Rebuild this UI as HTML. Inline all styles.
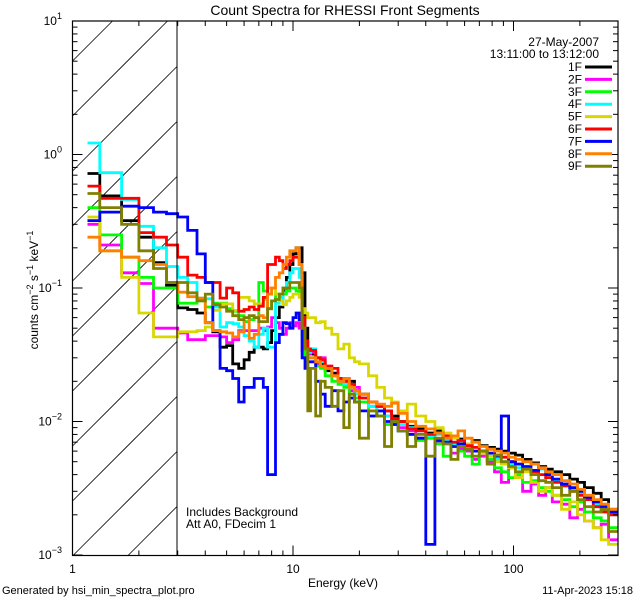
<!DOCTYPE html>
<html><head><meta charset="utf-8"><style>
html,body{margin:0;padding:0;background:#fff;width:640px;height:600px;overflow:hidden;}
svg{display:block;font-family:"Liberation Sans",sans-serif;}
</style></head><body>
<svg id="chart" width="640" height="600" viewBox="0 0 640 600" xmlns="http://www.w3.org/2000/svg">
<rect width="640" height="600" fill="#fff"/>
<defs><clipPath id="plotClip"><rect x="72.5" y="21" width="545.5" height="534.5"/></clipPath></defs>
<g id="hatch"></g>
<g id="series" clip-path="url(#plotClip)"></g>
<g id="axes"></g>
<text x="345" y="15" font-size="14" text-anchor="middle">Count Spectra for RHESSI Front Segments</text>
<text x="343" y="587" font-size="12" text-anchor="middle">Energy (keV)</text>
<text transform="translate(38,290) rotate(-90)" font-size="12" text-anchor="middle">counts cm<tspan dy="-5" font-size="9">−2</tspan><tspan dy="5"> s</tspan><tspan dy="-5" font-size="9">−1</tspan><tspan dy="5"> keV</tspan><tspan dy="-5" font-size="9">−1</tspan></text>
<text x="599" y="46" font-size="12" text-anchor="end">27-May-2007</text>
<text x="599" y="58" font-size="12" text-anchor="end">13:11:00 to 13:12:00</text>
<text x="186" y="516" font-size="12">Includes Background</text>
<text x="186" y="528" font-size="12">Att A0, FDecim 1</text>
<text x="2" y="594" font-size="11">Generated by hsi_min_spectra_plot.pro</text>
<text x="633" y="594" font-size="11" text-anchor="end">11-Apr-2023 15:18</text>
<g id="legend"></g>
</svg>
<script>
const edges=[1.17,1.33,1.67,2.0,2.33,2.67,3.0,3.33,3.67,4.0,4.33,4.67,5.0,5.33,5.67,6.0,6.33,6.67,7.0,7.33,7.67,8.0,8.33,8.67,9.0,9.33,9.67,10.0,10.33,10.67,11.0,11.33,11.67,12.0,12.67,13.33,14,15,16,17,18,19,20,22,24,26,28,30,33,36,40,44,48,52,56,60,65,70,76,82,88,95,102,110,120,130,140,150,165,180,195,210,230,250,270,297];
const seriesNames=["1F","2F","3F","4F","5F","6F","7F","8F","9F"];
const seriesColors=["#000000","#ff00ff","#00ff00","#00ffff","#d8d800","#ff0000","#0000ff","#ff8000","#808000"];
const s1F=[0.72,0.49,0.32,0.24,0.155,0.105,0.071,0.069,0.065,0.055,0.047,0.036,0.037,0.027,0.025,0.029,0.033,0.036,0.036,0.035,0.039,0.048,0.06,0.072,0.096,0.12,0.15,0.18,0.2,0.2,0.13,0.05,0.034,
0.032,0.03,0.027,0.024,0.023,0.021,0.019,0.02,0.017,0.016,0.014,0.013,0.012,0.011,0.01,0.0092,0.0088,0.0082,0.0085,0.0076,0.0078,0.0074,0.0068,0.0072,0.0066,0.0064,0.0062,0.006,0.0058,0.0056,0.0052,0.0049,0.0046,0.0044,0.0042,0.004,0.0037,0.0035,0.0032,0.0029,0.0026,0.0022];
const s2F=[0.3,0.21,0.13,0.108,0.05,0.05,0.046,0.041,0.041,0.044,0.044,0.043,0.039,0.041,0.048,0.048,0.048,0.048,0.05,0.048,0.051,0.06,0.055,0.05,0.045,0.05,0.055,0.052,0.055,0.05,0.034,0.03,0.032,
0.033,0.027,0.03,0.026,0.022,0.02,0.021,0.017,0.018,0.015,0.013,0.012,0.011,0.0095,0.009,0.0085,0.0075,0.0078,0.007,0.0068,0.0058,0.0062,0.006,0.0052,0.0055,0.005,0.0042,0.0035,0.0045,0.0038,0.003,0.0034,0.0028,0.0032,0.0025,0.0024,0.0019,0.0022,0.0018,0.0016,0.0017,0.0013];
const s3F=[0.4,0.25,0.17,0.12,0.1,0.1,0.077,0.077,0.08,0.072,0.077,0.077,0.07,0.067,0.062,0.056,0.058,0.06,0.11,0.095,0.07,0.08,0.09,0.085,0.09,0.095,0.1,0.1,0.095,0.09,0.04,0.03,0.03,
0.03,0.026,0.025,0.022,0.02,0.019,0.018,0.016,0.015,0.014,0.012,0.011,0.0095,0.01,0.0085,0.008,0.0072,0.0075,0.0068,0.0055,0.0065,0.006,0.0055,0.0048,0.0058,0.0052,0.0045,0.0042,0.0038,0.004,0.0035,0.0036,0.0032,0.003,0.0028,0.0026,0.0023,0.0025,0.0021,0.0019,0.0018,0.0016];
const s4F=[1.22,0.73,0.46,0.29,0.2,0.145,0.12,0.11,0.084,0.083,0.072,0.051,0.055,0.054,0.051,0.044,0.04,0.036,0.045,0.05,0.036,0.036,0.077,0.08,0.1,0.11,0.13,0.14,0.14,0.12,0.06,0.04,0.033,
0.035,0.03,0.028,0.025,0.022,0.02,0.019,0.018,0.016,0.015,0.013,0.012,0.011,0.01,0.0095,0.009,0.0085,0.0078,0.008,0.0072,0.0068,0.007,0.0063,0.006,0.0058,0.0055,0.0052,0.005,0.0048,0.0045,0.0043,0.004,0.0044,0.0038,0.0036,0.0033,0.0031,0.0029,0.0027,0.0024,0.0022,0.002];
const s5F=[0.34,0.19,0.12,0.065,0.043,0.043,0.047,0.047,0.048,0.051,0.068,0.076,0.076,0.068,0.085,0.085,0.08,0.076,0.076,0.082,0.1,0.1,0.09,0.08,0.075,0.08,0.085,0.09,0.09,0.085,0.07,0.065,0.06,
0.06,0.055,0.056,0.05,0.045,0.035,0.038,0.03,0.028,0.027,0.022,0.018,0.015,0.014,0.012,0.0135,0.011,0.01,0.009,0.0082,0.0075,0.007,0.0068,0.006,0.0058,0.0055,0.005,0.0048,0.0045,0.0038,0.0042,0.0035,0.003,0.0032,0.0028,0.0022,0.0025,0.002,0.0018,0.0016,0.0013,0.0012];
const s6F=[0.58,0.47,0.47,0.26,0.24,0.21,0.17,0.125,0.12,0.11,0.11,0.084,0.1,0.092,0.067,0.069,0.072,0.069,0.073,0.085,0.15,0.15,0.17,0.16,0.14,0.15,0.16,0.17,0.17,0.15,0.06,0.04,0.035,
0.034,0.03,0.029,0.026,0.025,0.021,0.02,0.019,0.017,0.015,0.014,0.013,0.012,0.0105,0.01,0.0088,0.0085,0.008,0.0082,0.0078,0.007,0.0072,0.0066,0.0064,0.006,0.0062,0.0056,0.0054,0.005,0.0048,0.0044,0.0042,0.004,0.0038,0.0035,0.0033,0.003,0.0028,0.0026,0.0023,0.0021,0.002];
const s7F=[0.32,0.37,0.41,0.4,0.37,0.36,0.34,0.27,0.18,0.11,0.048,0.025,0.024,0.021,0.014,0.018,0.018,0.021,0.021,0.018,0.004,0.004,0.039,0.045,0.055,0.054,0.05,0.06,0.065,0.058,0.03,0.025,0.028,
0.028,0.02,0.016,0.013,0.017,0.012,0.014,0.015,0.014,0.012,0.011,0.012,0.01,0.0095,0.0085,0.008,0.0075,0.0012,0.0072,0.007,0.0065,0.0068,0.0062,0.006,0.006,0.0058,0.0055,0.011,0.005,0.0048,0.0046,0.0043,0.0045,0.004,0.0037,0.0034,0.0032,0.003,0.0027,0.0025,0.0023,0.0021];
const s8F=[0.24,0.19,0.17,0.16,0.15,0.11,0.093,0.086,0.084,0.055,0.048,0.047,0.046,0.043,0.047,0.06,0.042,0.045,0.062,0.06,0.09,0.1,0.12,0.13,0.15,0.17,0.19,0.19,0.2,0.15,0.05,0.035,0.03,
0.03,0.028,0.026,0.025,0.022,0.02,0.021,0.018,0.017,0.016,0.014,0.0135,0.013,0.0137,0.0115,0.01,0.0092,0.0088,0.0082,0.0075,0.0078,0.0085,0.0075,0.007,0.0065,0.0062,0.006,0.0058,0.0054,0.0052,0.005,0.0048,0.0045,0.0042,0.004,0.0036,0.0034,0.0031,0.0028,0.0026,0.0024,0.0022];
const s9F=[0.51,0.4,0.3,0.19,0.14,0.11,0.11,0.092,0.08,0.09,0.075,0.072,0.067,0.062,0.058,0.06,0.062,0.06,0.056,0.056,0.07,0.08,0.082,0.09,0.1,0.1,0.11,0.11,0.11,0.1,0.05,0.035,0.012,
0.025,0.011,0.02,0.018,0.013,0.017,0.009,0.016,0.014,0.0075,0.012,0.011,0.0065,0.01,0.0085,0.0065,0.008,0.0055,0.0075,0.0068,0.0052,0.0065,0.0062,0.0055,0.006,0.0048,0.0056,0.005,0.0046,0.0042,0.0044,0.004,0.0036,0.0035,0.0032,0.0028,0.003,0.0026,0.0023,0.0021,0.0022,0.0015];
const seriesValues=[s1F,s2F,s3F,s4F,s5F,s6F,s7F,s8F,s9F];
const xMajorLabels=["1","10","100"];
const xMajorValues=[1,10,100];
const yMajorValues=[1e1,1e0,1e-1,1e-2,1e-3];
const yMajorExp=["1","0","−1","−2","−3"];

const NS="http://www.w3.org/2000/svg";
const X0=72.5,X1=618,XD=220.5,Y0=21,Y1=555.5,YD=133.5,XH=177;
function xs(e){return X0+XD*Math.log10(e);}
function ys(v){return Y0+(1-Math.log10(v))*YD;}
function mk(tag,attrs,parent){const el=document.createElementNS(NS,tag);for(const k in attrs)el.setAttribute(k,attrs[k]);parent.appendChild(el);return el;}

// hatch lines x+y=c, clipped manually to hatch box
const hatch=document.getElementById('hatch');
for(let c=X0+Y0+40;c<XH+Y1;c+=55){
  let xa=Math.max(X0,c-Y1), xb=Math.min(XH,c-Y0);
  if(xb<=xa)continue;
  const ln=mk('line',{x1:xa.toFixed(1),y1:(c-xa).toFixed(1),x2:xb.toFixed(1),y2:(c-xb).toFixed(1),stroke:'#000','stroke-width':0.8},hatch);
  
  
}
const axes=document.getElementById('axes');
const bnd=mk('line',{x1:XH,y1:Y0,x2:XH,y2:Y1,stroke:'#000','stroke-width':1},axes);



const sg=document.getElementById('series');
seriesValues.forEach((vals,si)=>{
  let d='';
  vals.forEach((v,i)=>{
    const xa=xs(edges[i]),xb=xs(edges[i+1]),y=Math.min(Y1,ys(v));
    d+=(i===0?'M':'L')+xa.toFixed(1)+','+y.toFixed(1)+'L'+Math.min(X1,xb).toFixed(1)+','+y.toFixed(1);
  });
  const p=mk('path',{d:d,fill:'none',stroke:seriesColors[si],'stroke-width':2.8,'stroke-linejoin':'miter'},sg);
  
  
});

const box=mk('rect',{x:X0,y:Y0,width:X1-X0,height:Y1-Y0,fill:'none',stroke:'#000','stroke-width':1.2},axes);


for(let dec=1;dec<=100;dec*=10){
  for(let m=1;m<10;m++){
    const e=dec*m; if(e<1||e>297)continue;
    const x=xs(e),len=(m===1)?10:5;
    const t1=mk('line',{x1:x,y1:Y1,x2:x,y2:Y1-len,stroke:'#000','stroke-width':1},axes);
    
    
    const t2=mk('line',{x1:x,y1:Y0,x2:x,y2:Y0+len,stroke:'#000','stroke-width':1},axes);
    
    
  }
}
xMajorValues.forEach((e,i)=>{
  const t=mk('text',{x:xs(e),y:573,'font-size':12,'text-anchor':'middle'},axes);
  t.textContent=xMajorLabels[i];
  
  
});
for(let p=-3;p<1;p++){
  for(let m=1;m<10;m++){
    const v=m*Math.pow(10,p),y=ys(v),len=(m===1)?10:5;
    const t1=mk('line',{x1:X0,y1:y,x2:X0+len,y2:y,stroke:'#000','stroke-width':1},axes);
    
    
    const t2=mk('line',{x1:X1,y1:y,x2:X1-len,y2:y,stroke:'#000','stroke-width':1},axes);
    
    
  }
}
yMajorValues.forEach((v,i)=>{
  const t=mk('text',{x:62,y:ys(v)+4,'font-size':12,'text-anchor':'end'},axes);
  t.textContent='10';
  const sp=mk('tspan',{dy:-6,'font-size':9},t);
  sp.textContent=yMajorExp[i];
  
  
});
const lg=document.getElementById('legend');
seriesNames.forEach((n,i)=>{
  const y=67+i*12.4;
  const t=mk('text',{x:582,y:y+4,'font-size':12,'text-anchor':'end'},lg);
  t.textContent=n;
  
  
  const l=mk('line',{x1:585,y1:y,x2:612,y2:y,stroke:seriesColors[i],'stroke-width':3},lg);
  
  
});
</script>
</body></html>
